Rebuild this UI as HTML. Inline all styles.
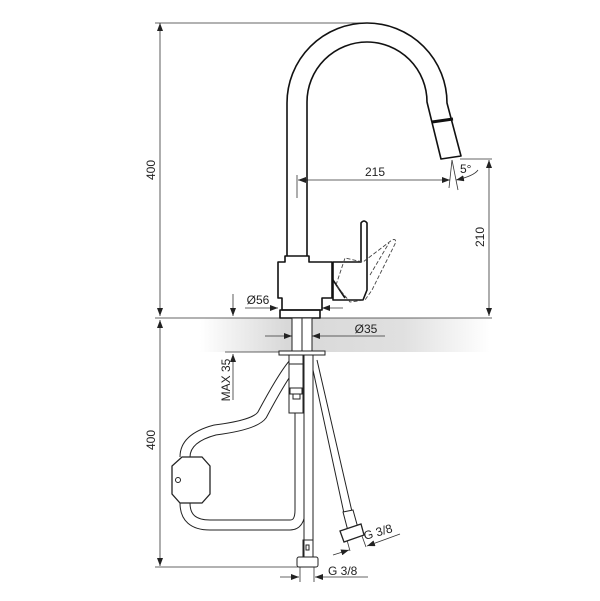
<!DOCTYPE html>
<html><head><style>
html,body{margin:0;padding:0;background:#fff;}
svg{display:block;}
text{font-family:"Liberation Sans",sans-serif;font-size:12px;fill:#222;}
</style></head><body>
<svg width="600" height="601" viewBox="0 0 600 601" xmlns="http://www.w3.org/2000/svg">
<defs>
<linearGradient id="g" x1="0" x2="1" y1="0" y2="0">
<stop offset="0" stop-color="#fff"/><stop offset="0.3" stop-color="#d8d8d8"/><stop offset="0.7" stop-color="#e0e0e0"/><stop offset="1" stop-color="#fff"/>
</linearGradient>
<marker id="a" markerWidth="8" markerHeight="6" refX="8" refY="3" orient="auto-start-reverse" markerUnits="userSpaceOnUse"><path d="M0,0 L8,3 L0,6z" fill="#222"/></marker>
</defs>
<rect x="200" y="318" width="290" height="34" fill="url(#g)"/>
<g stroke="#333" stroke-width="0.8" fill="none">
<line x1="155" y1="23" x2="367" y2="23"/>
<line x1="160" y1="23" x2="160" y2="316" marker-start="url(#a)" marker-end="url(#a)"/>
<line x1="160" y1="320" x2="160" y2="566" marker-start="url(#a)" marker-end="url(#a)"/>
<line x1="155" y1="318" x2="492" y2="318"/>
<line x1="155" y1="567" x2="300" y2="567"/>
<line x1="297" y1="175" x2="297" y2="198"/>
<line x1="298" y1="180" x2="450" y2="180" marker-start="url(#a)" marker-end="url(#a)"/>
<line x1="452" y1="160" x2="449" y2="188"/>
<line x1="452" y1="160" x2="458" y2="190"/>
<path d="M456,180 Q474,176 478,170" marker-start="url(#a)"/>
<line x1="460" y1="159" x2="492" y2="159"/>
<line x1="489" y1="160" x2="489" y2="316" marker-start="url(#a)" marker-end="url(#a)"/>
<line x1="245" y1="308" x2="278" y2="308" marker-end="url(#a)"/>
<line x1="343" y1="308" x2="322" y2="308" marker-end="url(#a)"/>
<line x1="265" y1="336" x2="292" y2="336" marker-end="url(#a)"/>
<line x1="385" y1="336" x2="312" y2="336" marker-end="url(#a)"/>
<line x1="233" y1="294" x2="233" y2="316" marker-end="url(#a)"/>
<line x1="233" y1="400" x2="233" y2="354" marker-end="url(#a)"/>
<line x1="225" y1="352" x2="280" y2="352"/>
<line x1="300" y1="567" x2="300" y2="582"/><line x1="314" y1="567" x2="314" y2="582"/>
<line x1="280" y1="577" x2="299" y2="577" marker-end="url(#a)"/>
<line x1="368" y1="577" x2="315" y2="577" marker-end="url(#a)"/>
<line x1="347" y1="540" x2="350" y2="551"/><line x1="362" y1="536" x2="366" y2="547"/>
<line x1="333" y1="555" x2="349" y2="550" marker-end="url(#a)"/>
<line x1="400" y1="534" x2="367" y2="546" marker-end="url(#a)"/>
</g>
<g stroke="#111" stroke-width="1.6" fill="none" stroke-linejoin="round">
<path d="M287,256 L287,103 A80,80 0 0 1 447,103 L461,156 L441,159 L427,102 A60,60 0 0 0 307,102 L307,256"/>
<line x1="432" y1="122" x2="453" y2="119" stroke-width="3"/>
<path d="M285,256 L309,256 L309,262 L332,262 L332,298 L322,298 L322,310 L282,310 L282,298 L278,298 L278,262 L285,262 Z"/>
<rect x="280" y="310" width="40" height="8"/>
<path d="M333,262 L333,300 L363,300 L367,290 L367,223 Q364,219 361,223 L361,262 Z"/>
<path d="M333,280 L345,298"/>
</g>
<g stroke="#444" stroke-width="0.9" fill="none" stroke-dasharray="4,2">
<path d="M336,285 L345,258 L363,262 L392,240 Q397,238 395,244 L372,290 L365,300 L350,302 Z"/>
<path d="M370,275 L389,243"/>
</g>
<g stroke="#222" stroke-width="1" fill="none">
<rect x="292" y="318" width="20" height="33" fill="#fff"/>
<line x1="302" y1="318" x2="302" y2="351"/>
<rect x="279" y="351" width="46" height="4" fill="#fff"/>
<path d="M295,362 Q285,372 262,415 Q255,425 215,430 Q185,438 185,457 M185,503 Q185,525 210,525 L290,525 Q300,525 300,510 L300,413" stroke="#222" stroke-width="11"/>
<path d="M295,362 Q285,372 262,415 Q255,425 215,430 Q185,438 185,457 M185,503 Q185,525 210,525 L290,525 Q300,525 300,510 L300,413" stroke="#fff" stroke-width="9"/>
<path d="M182,457 L202,457 L210,466 L210,494 L202,503 L180,503 L172,494 L172,466 Z" fill="#fff" stroke-width="1.3"/>
<circle cx="178" cy="480" r="2.5"/>
<rect x="289" y="355" width="14" height="58" fill="#fff"/>
<line x1="289" y1="364" x2="303" y2="364"/>
<rect x="290" y="388" width="12" height="6" fill="#fff"/>
<rect x="293" y="394" width="7" height="5"/>
<rect x="304" y="355" width="9" height="203" fill="#fff"/>
<rect x="303" y="540" width="10" height="17"/>
<rect x="306" y="545" width="3" height="5"/>
<rect x="297" y="557" width="21" height="10" rx="2" fill="#fff"/>
<path d="M313,370 L345,518 L353,516 L317,360"/>
<path d="M343,512 L353,510 L358,528 L348,531Z" fill="#fff"/>
<path d="M340,531 L361,524 L364,535 L344,542 Z" fill="#fff" stroke-width="1.3"/>
</g>
<g>
<text x="155" y="170" text-anchor="middle" transform="rotate(-90 155 170)" font-size="13">400</text>
<text x="155" y="440" text-anchor="middle" transform="rotate(-90 155 440)" font-size="13">400</text>
<text x="375" y="176" text-anchor="middle">215</text>
<text x="460" y="173">5°</text>
<text x="484" y="237" text-anchor="middle" transform="rotate(-90 484 237)">210</text>
<text x="258" y="304" text-anchor="middle">Ø56</text>
<text x="366" y="333" text-anchor="middle">Ø35</text>
<text x="230" y="380" text-anchor="middle" transform="rotate(-90 230 380)">MAX 35</text>
<text x="328" y="575">G 3/8</text>
<text x="365" y="540" transform="rotate(-16 365 540)">G 3/8</text>
</g>
</svg>
</body></html>
